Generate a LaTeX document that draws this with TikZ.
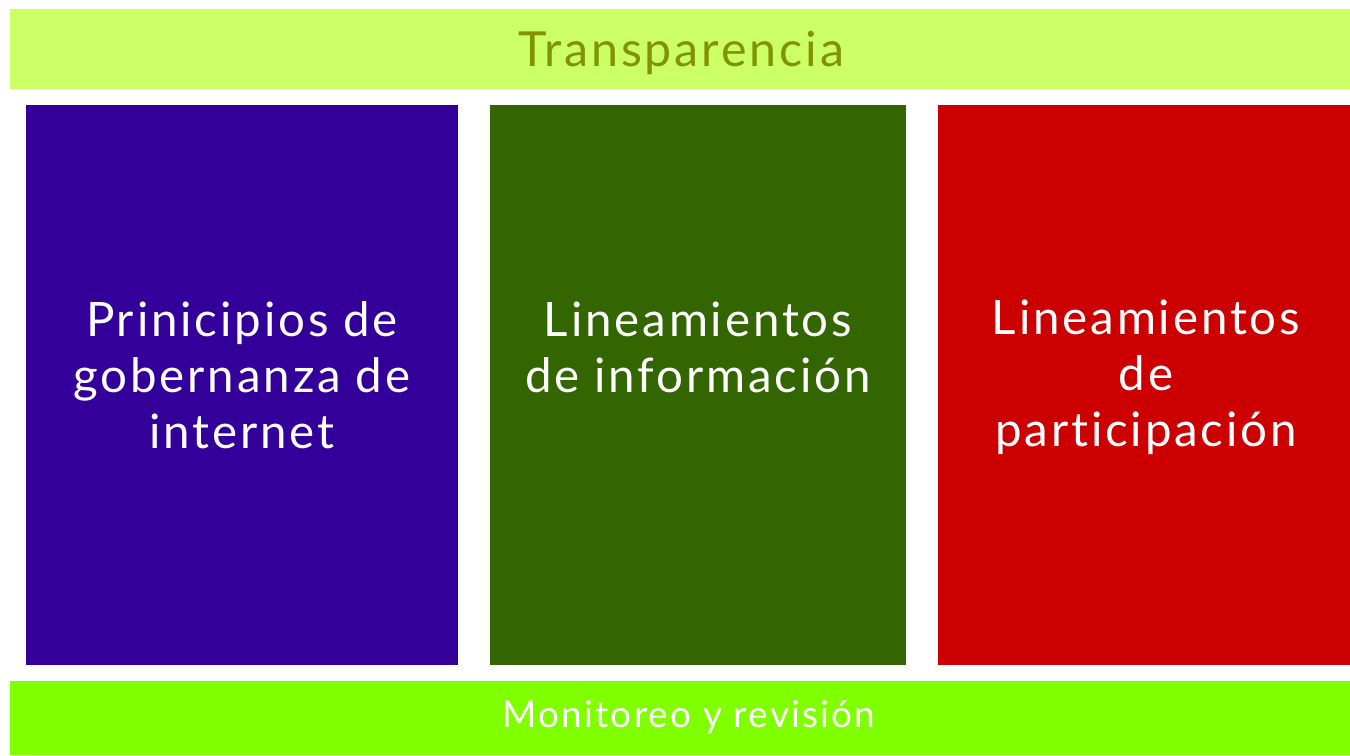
\documentclass[tikz,border=0pt]{standalone}
\usepackage{fontspec}
\setsansfont{Lato}[LetterSpace=6, Ligatures={NoCommon}]
\usepackage{tikz}
\usetikzlibrary{positioning}

\definecolor{barlime}{HTML}{CCFF66}
\definecolor{barolive}{HTML}{7F9400}
\definecolor{barbright}{HTML}{80FF00}
\definecolor{colblue}{HTML}{330099}
\definecolor{colgreen}{HTML}{336600}
\definecolor{colred}{HTML}{CC0000}

\begin{document}
\begin{tikzpicture}[x=0.02cm, y=-0.02cm,
  every node/.style={font=\sffamily},
  pillar/.style={fill=#1, draw=none},
  pillartext/.style={text=white, align=center, font=\sffamily\fontsize{27}{32}\selectfont}]
  \useasboundingbox (0, 0) rectangle (1350, 755);

  % top bar
  \fill[barlime] (10, 9) rectangle (1350, 89);
  \node[text=barolive, font=\sffamily\fontsize{27.5}{32}\selectfont] (top) at (681, 53) {Transparencia};

  % three pillars
  \fill[pillar=colblue] (26, 105) rectangle (458, 665);
  \fill[pillar=colgreen] (490, 105) rectangle (906, 665);
  \fill[pillar=colred] (938, 105) rectangle (1350, 665);

  \node[pillartext] (gov) at (242, 375) {Prinicipios de\\gobernanza de\\internet};
  \node[pillartext] (info) at (698, 347) {Lineamientos\\de información};
  \node[pillartext] (part) at (1146, 377) {Lineamientos\\de\\participación};

  % bottom bar
  \fill[barbright] (10, 681) rectangle (1350, 755);
  \node[text=white, font=\sffamily\fontsize{21}{24}\selectfont] (bottom) at (689, 717) {Monitoreo y revisión};
\end{tikzpicture}
\end{document}
